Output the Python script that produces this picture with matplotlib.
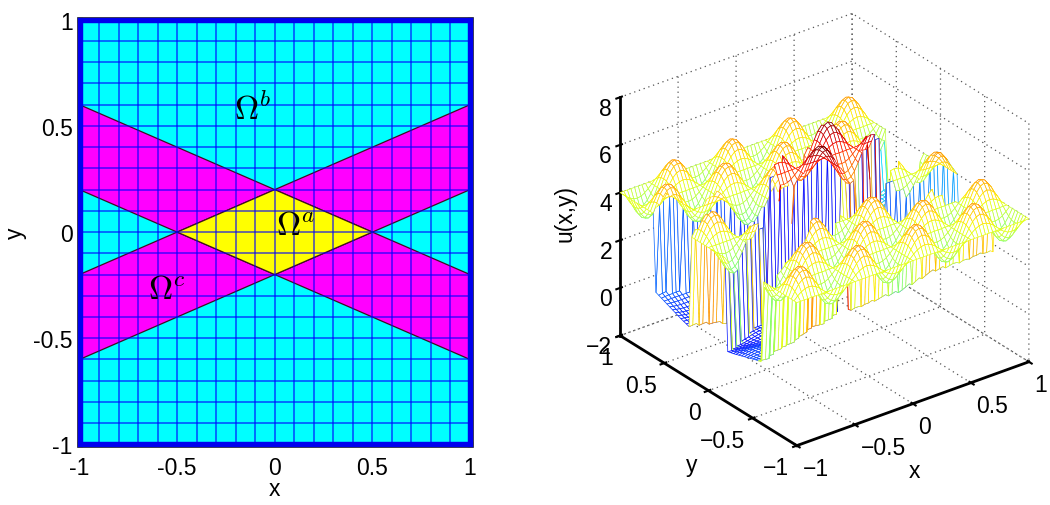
import matplotlib
matplotlib.use("Agg")
import matplotlib.pyplot as plt
from matplotlib.path import Path
import numpy as np

plt.rcParams['font.family'] = 'Liberation Sans'
plt.rcParams['mathtext.fontset'] = 'cm'

W, H = 1050, 506

# left panel: regions of the domain
band_ul = [(-1, 0.6), (0, 0.2), (-0.5, 0), (-1, 0.2)]
band_ur = [(1, 0.6), (0, 0.2), (0.5, 0), (1, 0.2)]
band_ll = [(-1, -0.6), (0, -0.2), (-0.5, 0), (-1, -0.2)]
band_lr = [(1, -0.6), (0, -0.2), (0.5, 0), (1, -0.2)]
diamond = [(-0.5, 0), (0, 0.2), (0.5, 0), (0, -0.2)]
grid_lines = [-0.9, -0.8, -0.7, -0.6, -0.5, -0.4, -0.3, -0.2, -0.1, 0,
              0.1, 0.2, 0.3, 0.4, 0.5, 0.6, 0.7, 0.8, 0.9]
left_ticks = [-1, -0.5, 0, 0.5, 1]
left_labels = ['-1', '-0.5', '0', '0.5', '1']

# right panel: heights
level_b = 4.0   # plateau of the outer region
level_a = 6.0   # plateau of the diamond
# one bump cycle along x, for the ripple heights seen on the surface
wave_0 = [0] * 65
wave_38 = [0, .15, .27, .35, .38, .35, .27, .15, 0, -.15, -.27, -.35, -.38, -.35, -.27, -.15] * 4 + [0]
wave_71 = [0, .27, .5, .65, .71, .65, .5, .27, 0, -.27, -.5, -.65, -.71, -.65, -.5, -.27] * 4 + [0]
wave_92 = [0, .35, .65, .85, .92, .85, .65, .35, 0, -.35, -.65, -.85, -.92, -.85, -.65, -.35] * 4 + [0]
wave_100 = [0, .38, .71, .92, 1, .92, .71, .38, 0, -.38, -.71, -.92, -1, -.92, -.71, -.38] * 4 + [0]
# floor of the magenta bands, along x and along y
floor_x = [.1, .1, .1, .1, .1, .1, .1, .1, .1, .1, .1, .1, .1, .1, .1, .1,
           .05, .05, .05, .05, .05, .05, .05, .05, 0, 0, 0, 0, 0, 0, 0, 0,
           0, 0, 0, .05, .05, .1, .1, .15, .2, .25, .3, .35, .4, .45, .5, .55,
           .6, .65, .7, .75, .8, .85, .9, .95, 1, 1, 1.05, 1.05, 1.1, 1.1, 1.15, 1.15, 1.2]
floor_y = [.5] * 12 + [.5, .48, .45, .42, .38, .34, .3, .26, .22, .18, .14, .1, .07, .04, .02, 0, 0, 0, 0, 0,
           0, 0, 0, 0, 0, .02, .05, .08, .12, .16, .2, .25, .3, .35, .4, .45, .5, .55, .6, .65, .7] + [.7] * 12
xy_ticks = [-1, -0.5, 0, 0.5, 1]
z_ticks = [-2, 0, 2, 4, 6, 8]
x_tick_labels = ['\u22121', '\u22120.5', '0', '0.5', '1']
y_tick_labels = ['\u22121', '\u22120.5', '0', '0.5', '1']
z_tick_labels = ['\u22122', '0', '2', '4', '6', '8']

fig = plt.figure(figsize=(W / 100, H / 100), dpi=100)

# left panel
ax = fig.add_axes([79.5 / W, 1 - 445.4 / H, 390.5 / W, 424.6 / H])
ax.set_facecolor('#00ffff')
for poly in [band_ul, band_ur, band_ll, band_lr]:
    ax.fill(*zip(*poly), facecolor='#ff00ff', edgecolor='#401020', linewidth=0.9)
ax.fill(*zip(*diamond), facecolor='#ffff00', edgecolor='#401020', linewidth=0.9)
ax.vlines(grid_lines, -1, 1, color='#0000ff', alpha=0.62, linewidth=1.3)
ax.hlines(grid_lines, -1, 1, color='#0000ff', alpha=0.62, linewidth=1.3)
ax.set_xlim(-1, 1)
ax.set_ylim(-1, 1)
ax.set_xticks(left_ticks)
ax.set_xticklabels(left_labels)
ax.set_yticks(left_ticks)
ax.set_yticklabels(left_labels)
ax.tick_params(length=0, labelsize=16.5, color='#222222')
ax.tick_params(axis='x', pad=8)
ax.tick_params(axis='y', pad=5)
for s in ax.spines.values():
    s.set_color('#0000ee')
    s.set_linewidth(3.9)
ax.set_xlabel('x', fontsize=16.5, labelpad=-1)
ax.set_ylabel('y', fontsize=16.5, labelpad=4.5)
ax.text(-0.21, 0.535, r'$\Omega^b$', fontsize=24, color='black')
ax.text(0.005, -0.01, r'$\Omega^a$', fontsize=24, color='black')
ax.text(-0.65, -0.31, r'$\Omega^c$', fontsize=24, color='black')
fig.add_artist(plt.Rectangle((76.8 / W, 1 - 448 / H), 396 / W, 430 / H, fill=False,
                             edgecolor='#222244', linewidth=0.6, transform=fig.transFigure))

# right panel
ax3 = fig.add_axes([578.5 / W, 29.5 / H, 479 / W, 479 / H], projection='3d', proj_type='ortho')
ax3.patch.set_alpha(0)
ax3.view_init(elev=28.3, azim=-127.3)
ax3.set_box_aspect((1, 1, 0.928))

# ripple rows from y=-1 to y=1
w0, w38, w71, w92, w100 = [np.array(w) for w in (wave_0, wave_38, wave_71, wave_92, wave_100)]
cycle = [w0, w38, w71, w92, w100, w92, w71, w38, w0, -w38, -w71, -w92, -w100, -w92, -w71, -w38]
ripple = np.array(cycle * 4 + [w0])

x_nodes = np.arange(-32, 33) / 32
y_nodes = np.arange(-32, 33) / 32
X, Y = np.meshgrid(x_nodes, y_nodes)
pts = np.column_stack([np.clip(X, -0.999, 0.999).ravel(), Y.ravel()])
in_a = Path(diamond).contains_points(pts).reshape(X.shape)
in_c = np.zeros(X.shape, dtype=bool)
for poly in [band_ul, band_ur, band_ll, band_lr]:
    in_c |= Path(poly).contains_points(pts).reshape(X.shape)
floor = np.array(floor_y)[:, None] + np.array(floor_x)[None, :]
Z = level_b + ripple
Z = np.where(in_a, level_a + ripple, Z)
Z = np.where(in_c, floor + 0.1 * ripple, Z)

surf = ax3.plot_surface(X, Y, Z, rstride=1, cstride=1, color='white', shade=False,
                        linewidth=0.5, antialiased=True)
surf.set_zsort('max')
# mesh lines take the colour of the node they start from,
# on the jumps use the start node of the edges that cross the jump
jump_x = np.abs(np.diff(Z, axis=1)) > 1
jump_y = np.abs(np.diff(Z, axis=0)) > 1
starts = np.stack([np.where(jump_x[:-1], Z[:-1, :-1], -np.inf),
                   np.where(jump_x[1:], Z[1:, :-1], -np.inf),
                   np.where(jump_y[:, :-1], Z[:-1, :-1], -np.inf),
                   np.where(jump_y[:, 1:], Z[:-1, 1:], -np.inf)]).max(axis=0)
edge_vals = np.where(np.isfinite(starts), starts, Z[:-1, :-1])
surf.set_edgecolor(plt.cm.jet((edge_vals.ravel() + 1) / 8))

ax3.set_xlim(-1, 1, view_margin=0)
ax3.set_ylim(-1, 1, view_margin=0)
ax3.set_zlim(-2, 8, view_margin=0)
ax3.set_xticks(xy_ticks)
ax3.set_yticks(xy_ticks)
ax3.set_zticks(z_ticks)
ax3.set_xticklabels(x_tick_labels, ha='left')
ax3.set_yticklabels(y_tick_labels, ha='right')
ax3.set_zticklabels(z_tick_labels, ha='right')
ax3.tick_params(labelsize=16.5)
ax3.tick_params(axis='x', pad=-2.2)
ax3.tick_params(axis='y', pad=-2.2)
ax3.tick_params(axis='z', pad=-4.5)
for a in (ax3.xaxis, ax3.yaxis, ax3.zaxis):
    a.set_pane_color((1, 1, 1, 0))
    a.pane.set_edgecolor((1, 1, 1, 0))
    a.line.set_linewidth(2)
    a.line.set_color('black')
    a._axinfo['grid'].update(color='#555555', linewidth=0.9, linestyle=(0, (1, 3)))
    a._axinfo['tick']['linewidth'] = {True: 1.5, False: 1}
ax3.zaxis.set_rotate_label(False)
ax3.set_zlabel('u(x,y)', fontsize=16.5, rotation=90, labelpad=3)
fig.text(914 / W, 1 - 472 / H, 'x', fontsize=16.5, ha='center', va='center')
fig.text(692 / W, 1 - 466 / H, 'y', fontsize=16.5, ha='center', va='center')

fig.savefig('out.png', dpi=100)
